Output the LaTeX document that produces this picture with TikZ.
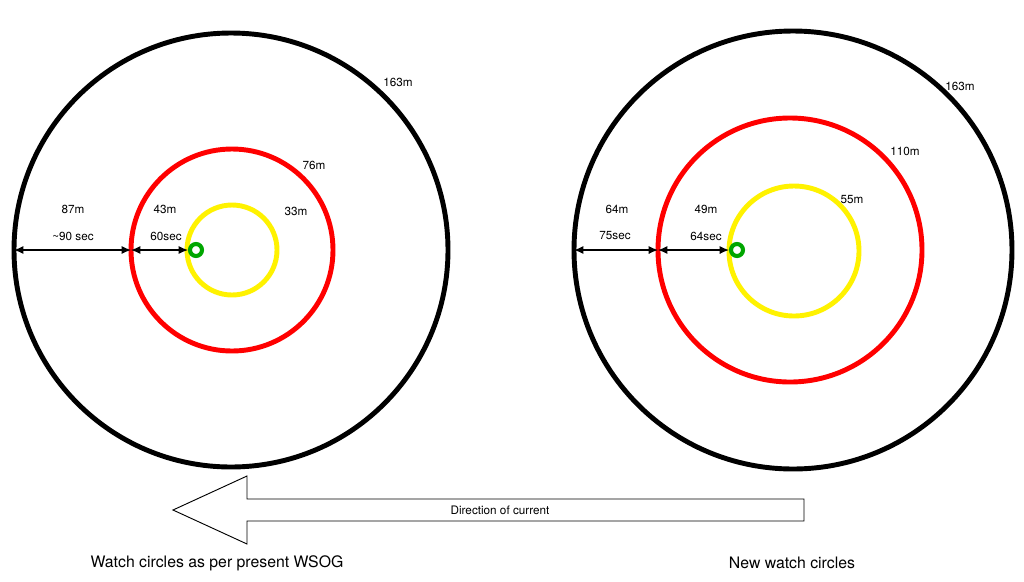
\documentclass[tikz,border=0pt]{standalone}
\usepackage{fontspec}
\setmainfont{TeX Gyre Heros}
\usetikzlibrary{arrows.meta}
\tikzset{
  ring/.style={line width=4.2pt},
  dim/.style={line width=1.1pt,{Latex[length=8pt,width=7pt]}-{Latex[length=8pt,width=7pt]}},
  lab/.style={font=\fontsize{10}{11}\selectfont},
  captext/.style={font=\fontsize{13.5}{15}\selectfont}
}
\begin{document}
\begin{tikzpicture}[x=0.3mm,y=-0.3mm]
\useasboundingbox[fill=white] (0,0) rectangle (1024,581);
% Present watch circles
\draw[ring,black] (231,250) circle (217);
\draw[ring,red] (232,250) circle (101);
\draw[ring,yellow] (232,250) circle (45);
\draw[green!65!black,line width=3.5pt,fill=white] (196,250) circle (6);
\coordinate (l0) at (14,250);
\coordinate (l1) at (131,250);
\coordinate (l2) at (188,250);
\draw[dim] (l0) -- (l1);
\draw[dim] (l1) -- (l2);
\node[lab] (lbig) at (398,82) {163m};
\node[lab] (lred) at (314,165) {76m};
\node[lab] (lyel) at (296,211) {33m};
\node[lab] (ld1) at (73,209) {87m};
\node[lab] (lt1) at (73,236) {\textasciitilde90 sec};
\node[lab] (ld2) at (165,209) {43m};
\node[lab] (lt2) at (166,236) {60sec};
% New watch circles
\draw[ring,black] (793,250) circle (219);
\draw[ring,red] (790,250) circle (132);
\draw[ring,yellow] (794,251) circle (65);
\draw[green!65!black,line width=3.5pt,fill=white] (737,250) circle (6);
\coordinate (r0) at (574,250);
\coordinate (r1) at (658,250);
\coordinate (r2) at (729,250);
\draw[dim] (r0) -- (r1);
\draw[dim] (r1) -- (r2);
\node[lab] (rbig) at (960,86) {163m};
\node[lab] (rred) at (905,151) {110m};
\node[lab] (ryel) at (852,200) {55m};
\node[lab] (rd1) at (617,209) {64m};
\node[lab] (rt1) at (615,236) {75sec};
\node[lab] (rd2) at (706,209) {49m};
\node[lab] (rt2) at (706,236) {64sec};
% Current arrow
\draw[line width=0.8pt] (804,499) -- (247,499) -- (247,476) -- (173,510)
  -- (247,544) -- (247,521) -- (804,521) -- cycle;
\node[lab] (cur) at (500,510) {Direction of current};
\node[captext] (capl) at (217,563) {Watch circles as per present WSOG};
\node[captext] (capr) at (792,563) {New watch circles};
\end{tikzpicture}
\end{document}
